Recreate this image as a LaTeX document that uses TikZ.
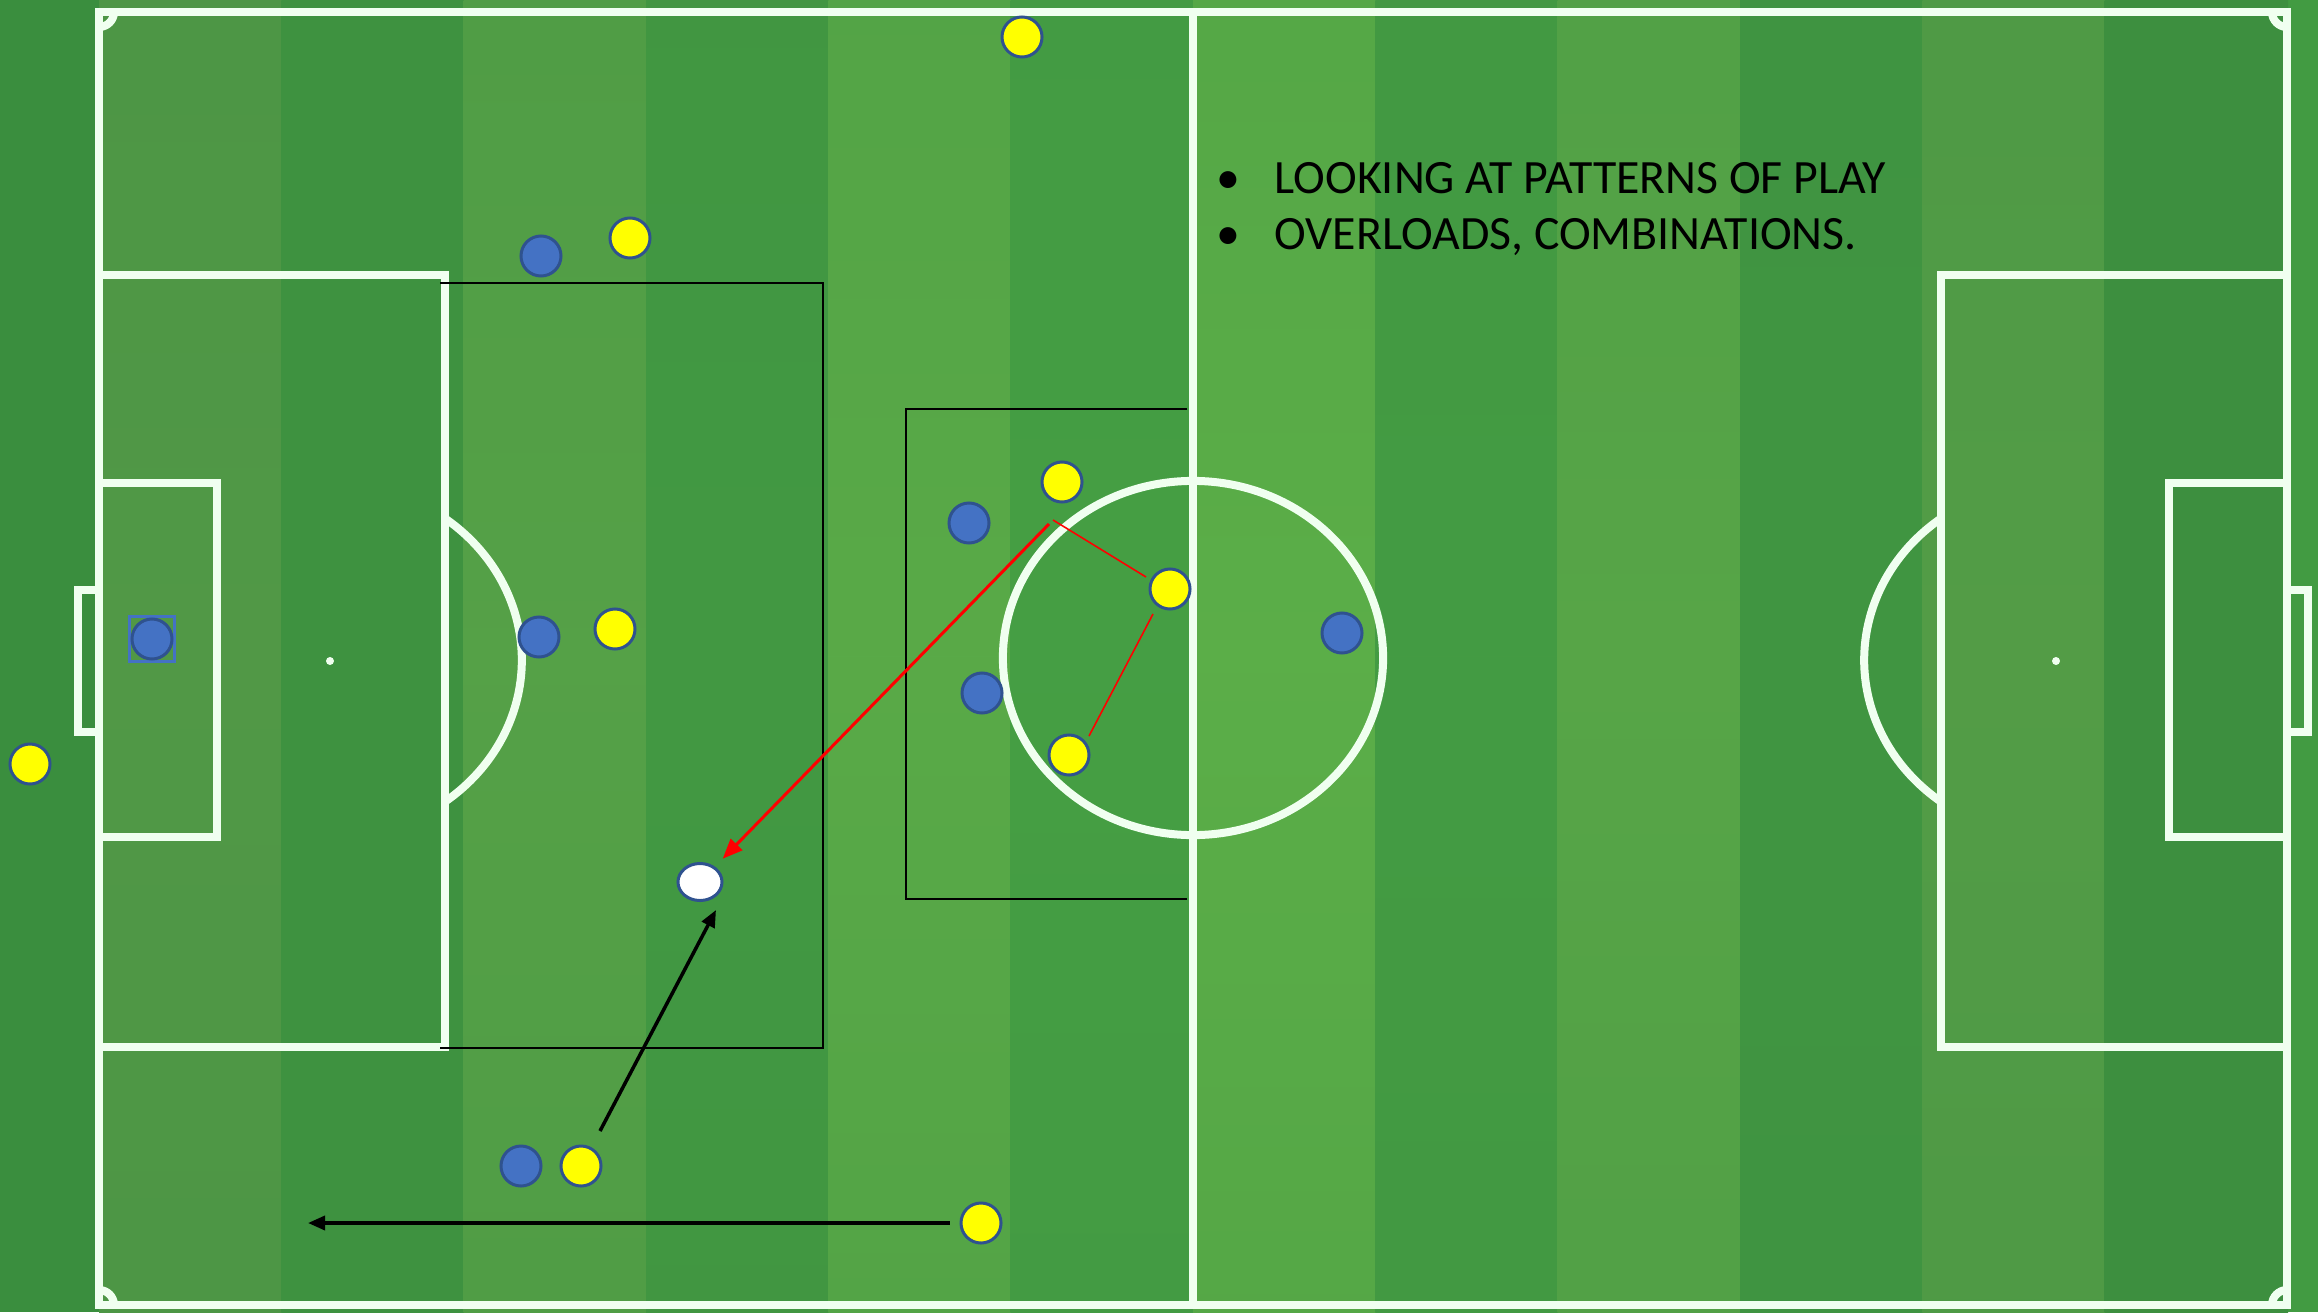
\documentclass[tikz,border=0pt]{standalone}
\usepackage{fontspec}
\setmainfont{Carlito}
\usetikzlibrary{arrows.meta,shapes.geometric}
\definecolor{LC}{RGB}{92,176,72}
\definecolor{LE}{RGB}{80,150,70}
\definecolor{DC}{RGB}{70,160,68}
\definecolor{DE}{RGB}{60,142,63}
\definecolor{margL}{RGB}{58,142,62}
\definecolor{margR}{RGB}{66,155,66}
\definecolor{chalk}{RGB}{240,255,240}
\definecolor{pedge}{RGB}{47,82,143}
\definecolor{pblue}{RGB}{68,114,196}
\definecolor{pyellow}{RGB}{255,255,0}
\definecolor{rline}{RGB}{255,0,0}
\begin{document}
\begin{tikzpicture}[x=0.01cm,y=-0.01cm,
  chalkline/.style={draw=chalk,line width=0.08cm},
  player/.style={circle,draw=pedge,line width=0.85pt,minimum size=0.4cm,inner sep=0pt},
  yel/.style={player,fill=pyellow},
  blu/.style={player,fill=pblue},
  ballnode/.style={ellipse,draw=pedge,line width=0.85pt,fill=white,minimum width=0.44cm,minimum height=0.37cm,inner sep=0pt},
  zone/.style={draw=black,line width=0.55pt},
  passline/.style={draw=rline,line width=0.45pt},
  redarrow/.style={draw=rline,line width=0.85pt,-{Triangle[length=0.2cm,width=0.16cm]}},
  runarrow/.style={draw=black,line width=1pt,-{Triangle[length=0.17cm,width=0.14cm]}},
  txt/.style={anchor=base west,inner sep=0pt,font=\fontsize{13.6pt}{16pt}\selectfont,text=black}
]
\useasboundingbox (0,0) rectangle (2318,1312);
% background
\fill[margL] (0,0) rectangle (99,1312);
\fill[margR] (2287,0) rectangle (2318,1312);
\foreach \i in {0,...,11}{
  \pgfmathsetmacro\xa{99+\i*182.333}
  \pgfmathsetmacro\xb{\xa+183.5}
  \pgfmathtruncatemacro\tval{100-abs(\xa+91.17-1193)/1094*100}
  \ifodd\i \colorlet{sc}{DC!\tval!DE}\else\colorlet{sc}{LC!\tval!LE}\fi
  \shade[top color=sc!80!DE, bottom color=sc!80!DE, middle color=sc] (\xa,0) rectangle (\xb,1312);
}
% pitch markings
\draw[chalkline] (99,12) rectangle (2287,1305);
\draw[chalkline] (1193,12) -- (1193,1305);
\draw[chalkline] (1193,658) ellipse [x radius=1.90cm, y radius=1.77cm];
% left end
\draw[chalkline] (99,275) -- (445,275) -- (445,1047) -- (99,1047);
\draw[chalkline] (99,483) -- (217,483) -- (217,837) -- (99,837);
\draw[chalkline] (99,590) -- (78,590) -- (78,732) -- (99,732);
\fill[chalk] (330,661) circle [radius=0.04cm];
\draw[chalkline] (445,518.4) arc [start angle=53.13, end angle=-53.13, x radius=1.92cm, y radius=1.77cm];
% right end
\draw[chalkline] (2287,275) -- (1941,275) -- (1941,1047) -- (2287,1047);
\draw[chalkline] (2287,483) -- (2169,483) -- (2169,837) -- (2287,837);
\draw[chalkline] (2287,590) -- (2308,590) -- (2308,732) -- (2287,732);
\fill[chalk] (2056,661) circle [radius=0.04cm];
\draw[chalkline] (1941,518.4) arc [start angle=126.87, end angle=233.13, x radius=1.92cm, y radius=1.77cm];
% corner arcs
\draw[chalkline] (99,27) arc [start angle=-90, end angle=0, radius=0.15cm];
\draw[chalkline] (2272,12) arc [start angle=180, end angle=270, radius=0.15cm];
\draw[chalkline] (99,1290) arc [start angle=90, end angle=0, radius=0.15cm];
\draw[chalkline] (2272,1305) arc [start angle=180, end angle=90, radius=0.15cm];
% zones
\draw[zone] (440,283) -- (823,283) -- (823,1048) -- (440,1048);
\draw[zone] (1187,409) -- (906,409) -- (906,899) -- (1187,899);
% players
\node[draw=pblue,line width=0.6pt,minimum size=0.45cm,inner sep=0pt] (gkbox) at (152,639) {};
\node[blu] (gk) at (152,639) {};
\node[yel] (y1) at (1022,37) {};
\node[blu] (b1) at (541,256) {};
\node[yel] (y2) at (630,238) {};
\node[blu] (b2) at (539,637) {};
\node[yel] (y3) at (615,629) {};
\node[yel] (y4) at (30,764) {};
\node[ballnode] (ball) at (700,882) {};
\node[blu] (b3) at (521,1166) {};
\node[yel] (y5) at (581,1166) {};
\node[yel] (y6) at (981,1223) {};
\node[yel] (yA) at (1062,482) {};
\node[blu] (bB) at (969,523) {};
\node[yel] (yC) at (1170,589) {};
\node[blu] (bD) at (982,693) {};
\node[yel] (yE) at (1069,755) {};
\node[blu] (bF) at (1342,633) {};
% connectors
\coordinate (p1s) at (1053,520);
\coordinate (p1e) at (1146,577);
\coordinate (p2s) at (1153,614);
\coordinate (p2e) at (1089,736);
\draw[passline] (p1s) -- (p1e);
\draw[passline] (p2s) -- (p2e);
\coordinate (rs) at (1049,524);
\draw[redarrow, shorten >=0.11cm] (rs) -- (ball);
\coordinate (bs) at (600,1131);
\coordinate (be) at (716,910);
\draw[runarrow] (bs) -- (be);
\coordinate (ge) at (308,1223);
\draw[runarrow, shorten <=0.1cm] (y6) -- (ge);
% text
\node[txt] (bul1) at (1216,193) {•};
\node[txt] (line1) at (1274,193) {LOOKING AT PATTERNS OF PLAY};
\node[txt] (bul2) at (1216,249) {•};
\node[txt] (line2) at (1274,249) {OVERLOADS, COMBINATIONS.};
\end{tikzpicture}
\end{document}
